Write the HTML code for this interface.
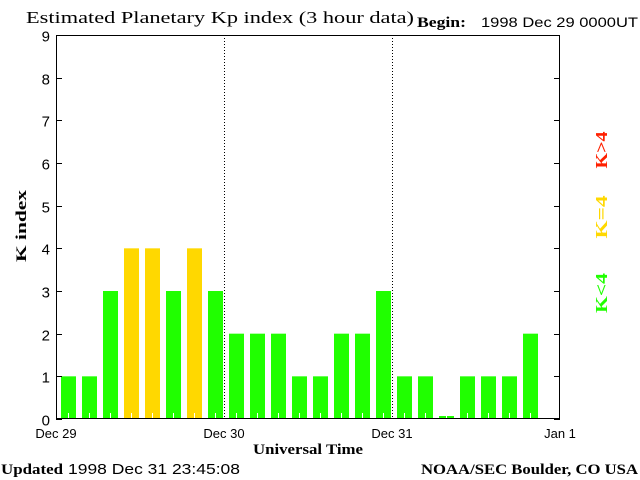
<!DOCTYPE html>
<html><head><meta charset="utf-8"><style>
html,body{margin:0;padding:0;background:#fff;}
svg{display:block;}
</style></head><body>
<svg id="chart" width="640" height="480" viewBox="0 0 640 480" xmlns="http://www.w3.org/2000/svg">
<text x="26" y="23" textLength="388" lengthAdjust="spacingAndGlyphs" font-family="Liberation Serif, serif" font-size="17" fill="#000">Estimated Planetary Kp index (3 hour data)</text>
<text x="417" y="27" textLength="49" lengthAdjust="spacingAndGlyphs" font-family="Liberation Serif, serif" font-weight="bold" font-size="15" fill="#000">Begin:</text>
<text x="481" y="27" textLength="157" lengthAdjust="spacingAndGlyphs" font-family="Liberation Sans, sans-serif" font-size="14" fill="#000">1998 Dec 29 0000UT</text>
<g id="plot"></g>
<text transform="translate(26,226) rotate(-90)" text-anchor="middle" textLength="72" lengthAdjust="spacingAndGlyphs" font-family="Liberation Serif, serif" font-weight="bold" font-size="15" fill="#000">K index</text>
<text x="253" y="454" textLength="110" lengthAdjust="spacingAndGlyphs" font-family="Liberation Serif, serif" font-weight="bold" font-size="15" fill="#000">Universal Time</text>
<text x="1" y="474" textLength="62" lengthAdjust="spacingAndGlyphs" font-family="Liberation Serif, serif" font-weight="bold" font-size="15" fill="#000">Updated</text>
<text x="68" y="474" textLength="172" lengthAdjust="spacingAndGlyphs" font-family="Liberation Sans, sans-serif" font-size="15" fill="#000">1998 Dec 31 23:45:08</text>
<text x="421" y="474" textLength="217" lengthAdjust="spacingAndGlyphs" font-family="Liberation Serif, serif" font-weight="bold" font-size="15" fill="#000">NOAA/SEC Boulder, CO USA</text>
<text transform="translate(607,150) rotate(-90)" text-anchor="middle" textLength="37" lengthAdjust="spacingAndGlyphs" font-family="Liberation Serif, serif" font-weight="bold" font-size="17" fill="#ff2000">K&gt;4</text>
<text transform="translate(607,217) rotate(-90)" text-anchor="middle" textLength="43" lengthAdjust="spacingAndGlyphs" font-family="Liberation Serif, serif" font-weight="bold" font-size="17" fill="#ffd800">K=4</text>
<text transform="translate(607,293) rotate(-90)" text-anchor="middle" textLength="40" lengthAdjust="spacingAndGlyphs" font-family="Liberation Serif, serif" font-weight="bold" font-size="17" fill="#20ff00">K&lt;4</text>
</svg>
<script>
const kpValues = [1,1,3,4,4,3,4,3, 2,2,2,1,1,2,2,3, 1,1,0,1,1,1,2];
const yTicks = [0,1,2,3,4,5,6,7,8,9];
const dayLabels = ["Dec 29","Dec 30","Dec 31","Jan 1"];

const NS="http://www.w3.org/2000/svg";
const L=56,R=560,T=35,B=419;
const slotsTotal=24, slotW=(R-L)/slotsTotal;
function yS(v){return B-(v/9)*(B-T);}
function xS(i){return L+i*slotW;}
const g=document.getElementById('plot');
function mk(tag,attrs){const e=document.createElementNS(NS,tag);for(const k in attrs)e.setAttribute(k,attrs[k]);g.appendChild(e);return e;}

kpValues.forEach((v,i)=>{
  const col=v>4?'#ff2000':(v===4?'#ffd800':'#20ff00');
  const y=Math.min(yS(v),B-3);
  const r=mk('rect',{x:xS(i)+5,y:y,width:15,height:B-y,fill:col});
  
  
  const t=mk('line',{x1:xS(i)+12.5,x2:xS(i)+12.5,y1:B-6,y2:B,stroke:'#fff','stroke-width':1});
  
  
});
[1,2].forEach(d=>{
  const x=xS(d*8)+0.5;
  const l=mk('line',{x1:x,x2:x,y1:T,y2:B,stroke:'#000','stroke-width':1,'stroke-dasharray':'1,2'});
  
  
});
const frame=mk('rect',{x:L+0.5,y:T+0.5,width:R-L-1,height:B-T-1,fill:'none',stroke:'#000','stroke-width':1});


yTicks.forEach(v=>{
  const y=Math.round(yS(v))+0.5;
  const a=mk('line',{x1:L,x2:L+6,y1:y,y2:y,stroke:'#000'});
  
  
  const b=mk('line',{x1:R-6,x2:R,y1:y,y2:y,stroke:'#000'});
  
  
  const t=mk('text',{x:L-6,y:y+6,'text-anchor':'end','font-family':'Liberation Sans, sans-serif','font-size':'15',fill:'#000'});
  t.textContent=v;
  
  
});
dayLabels.forEach((s,d)=>{
  const t=mk('text',{x:xS(d*8),y:438,'text-anchor':'middle','font-family':'Liberation Sans, sans-serif','font-size':'13',fill:'#000'});
  t.textContent=s;
  
  
});
</script>
</body></html>
